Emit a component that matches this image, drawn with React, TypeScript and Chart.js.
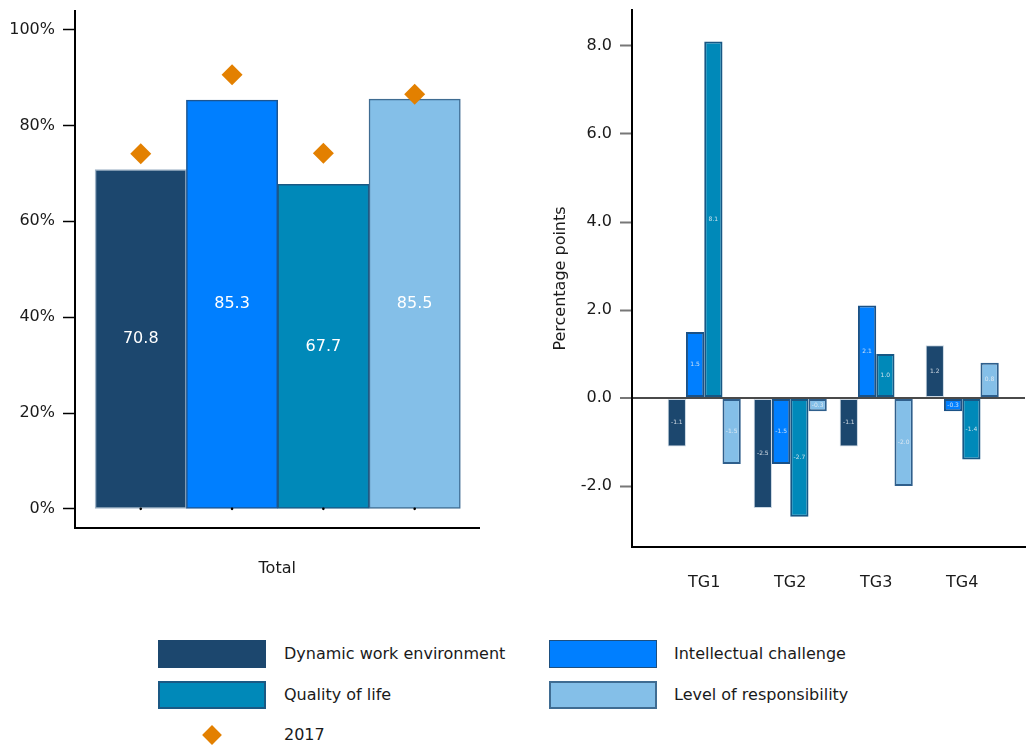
import React, { useEffect, useRef } from "react";
import { Chart, registerables } from "chart.js";
Chart.register(...registerables);

const seriesNames = ["Dynamic work environment", "Intellectual challenge", "Quality of life", "Level of responsibility"];
const seriesColors = ["#1C476E", "#007FFF", "#0089B9", "#84BFE8"];
const leftBorderColors = ["#9fb3c6", "#1d5590", "#1a5984", "#3f6c92"];
const rightBorderColors = ["#c9d6e2", "#1a5186", "#175784", "#2f5f8c"];
const totalValues = [70.8, 85.3, 67.7, 85.5];
const values2017 = [74.1, 90.6, 74.2, 86.5];
const baselineMarks = [0, 0, 0, 0];
const totalTicks = [0, 20, 40, 60, 80, 100];
const groupLabels = ["TG1", "TG2", "TG3", "TG4"];
const dynamicChange = [-1.1, -2.5, -1.1, 1.2];
const intellectualChange = [1.5, -1.5, 2.1, -0.3];
const qualityChange = [8.1, -2.7, 1.0, -1.4];
const responsibilityChange = [-1.5, -0.3, -2.0, 0.8];
const changeTicks = [-2, 0, 2, 4, 6, 8];

const FONT = "'DejaVu Sans', sans-serif";
const TEXT = "#1a1a1a";
const ORANGE = "#E38000";

function labelPlugin(size: number, color: string) {
  return {
    id: "barLabels",
    afterDatasetsDraw(chart: any) {
      const ctx = chart.ctx;
      chart.data.datasets.forEach((ds: any, i: number) => {
        const meta = chart.getDatasetMeta(i);
        if (meta.type !== "bar") return;
        meta.data.forEach((el: any, j: number) => {
          const { x, y, base } = el.getProps(["x", "y", "base"], true);
          const v = ds.data[j].y;
          ctx.save();
          ctx.font = `${size}px ${FONT}`;
          ctx.fillStyle = color;
          ctx.textAlign = "center";
          ctx.textBaseline = "middle";
          ctx.fillText(v.toFixed(1), x, (y + base) / 2);
          ctx.restore();
        });
      });
    },
  };
}

const fitY = (w: number) => (s: any) => {
  s.width = w;
  s.paddingTop = 0;
  s.paddingBottom = 0;
};
const fitX = (h: number) => (s: any) => {
  s.height = h;
  s.paddingLeft = 0;
  s.paddingRight = 0;
};

function LeftChart() {
  const ref = useRef<HTMLCanvasElement>(null);
  useEffect(() => {
    const chart = new Chart(ref.current!, {
      type: "bar",
      data: {
        datasets: [
          {
            type: "bar",
            data: totalValues.map((v, i) => ({ x: i, y: v })),
            backgroundColor: seriesColors,
            borderColor: leftBorderColors,
            borderWidth: 1.5,
            borderSkipped: false,
            categoryPercentage: 1,
            barPercentage: 1,
            order: 2,
          } as any,
          {
            type: "scatter",
            data: values2017.map((v, i) => ({ x: i, y: v })),
            pointStyle: "rectRot",
            pointRadius: 10.5,
            backgroundColor: ORANGE,
            borderColor: ORANGE,
            borderWidth: 0,
            order: 1,
          } as any,
          {
            type: "scatter",
            data: baselineMarks.map((v, i) => ({ x: i, y: v })),
            pointStyle: "circle",
            pointRadius: 1.3,
            backgroundColor: "#000",
            borderWidth: 0,
            order: 0,
          } as any,
        ],
      },
      options: {
        responsive: false,
        animation: false,
        layout: { padding: { top: 10, right: 10, left: 0, bottom: 0 } },
        plugins: { legend: { display: false }, tooltip: { enabled: false } },
        scales: {
          x: {
            type: "linear",
            min: -0.72,
            max: 3.71,
            offset: false,
            afterBuildTicks: (s: any) => { s.ticks = totalValues.map((_, i) => ({ value: i })); },
            ticks: { display: false },
            grid: { display: false },
            border: { display: true, color: "#000", width: 2 },
            title: { display: true, text: "Total", color: TEXT, font: { family: FONT, size: 16 }, padding: { top: 0, bottom: 22 } },
            afterFit: fitX(72),
          } as any,
          y: {
            min: -4,
            max: 104,
            afterBuildTicks: (s: any) => { s.ticks = totalTicks.map((v) => ({ value: v })); },
            ticks: { color: TEXT, font: { family: FONT, size: 16 }, padding: 8, callback: (v: any) => `${v}%` },
            grid: { display: true, drawOnChartArea: false, drawTicks: true, tickLength: 12, tickColor: "#000", tickWidth: 1.5 },
            border: { display: true, color: "#000", width: 2 },
            afterFit: fitY(75),
          } as any,
        },
      },
      plugins: [labelPlugin(16, "#ffffff")],
    });
    return () => chart.destroy();
  }, []);
  return <canvas ref={ref} width={490} height={600} style={{ position: "absolute", left: 0, top: 0 }} />;
}

function RightChart() {
  const ref = useRef<HTMLCanvasElement>(null);
  useEffect(() => {
    const series = [dynamicChange, intellectualChange, qualityChange, responsibilityChange];
    const chart = new Chart(ref.current!, {
      type: "bar",
      data: {
        datasets: series.map((vals, k) => ({
          label: seriesNames[k],
          data: vals.map((v, i) => ({ x: i, y: v })),
          backgroundColor: seriesColors[k],
          borderColor: rightBorderColors[k],
          borderWidth: k === 0 ? 1 : 2,
          borderSkipped: false,
          categoryPercentage: 0.85,
          barPercentage: 1,
        })) as any,
      },
      options: {
        responsive: false,
        animation: false,
        layout: { padding: { top: 10, right: 2, left: 0, bottom: 0 } },
        plugins: { legend: { display: false }, tooltip: { enabled: false } },
        scales: {
          x: {
            type: "linear",
            min: -0.84,
            max: 3.73,
            offset: false,
            afterBuildTicks: (s: any) => { s.ticks = groupLabels.map((_, i) => ({ value: i })); },
            ticks: { color: TEXT, font: { family: FONT, size: 16 }, padding: 18, callback: (v: any) => groupLabels[v] },
            grid: { display: false },
            border: { display: true, color: "#000", width: 2 },
            afterFit: fitX(53),
          } as any,
          y: {
            min: -3.386,
            max: 8.818,
            afterBuildTicks: (s: any) => { s.ticks = changeTicks.map((v) => ({ value: v })); },
            ticks: { color: TEXT, font: { family: FONT, size: 16 }, padding: 8, callback: (v: any) => Number(v).toFixed(1) },
            grid: {
              display: true,
              drawOnChartArea: true,
              drawTicks: true,
              tickLength: 12,
              tickColor: "#777",
              tickWidth: 2,
              color: (c: any) => (c.tick && c.tick.value === 0 ? "#4a4a4a" : "rgba(0,0,0,0)"),
              lineWidth: (c: any) => (c.tick && c.tick.value === 0 ? 2 : 1),
            },
            border: { display: true, color: "#000", width: 2 },
            title: { display: true, text: "Percentage points", color: TEXT, font: { family: FONT, size: 16 }, padding: { top: 51, bottom: 0 } },
            afterFit: fitY(132),
          } as any,
        },
      },
      plugins: [labelPlugin(6, "rgba(235,240,245,0.85)")],
    });
    return () => chart.destroy();
  }, []);
  return <canvas ref={ref} width={527} height={600} style={{ position: "absolute", left: 500, top: 0 }} />;
}

const legendBoxes = [
  { left: 158, top: 640, border: "none" },
  { left: 549, top: 640, border: "1px solid #1d4f80" },
  { left: 158, top: 681, border: "2px solid #1a5984" },
  { left: 549, top: 681, border: "2px solid #3f6c92" },
];
const legendTextLeft = [284, 674, 284, 674];

export default function App() {
  return (
    <div style={{ position: "absolute", left: 0, top: 0, width: 1027, height: 747, background: "#fff", fontFamily: FONT, color: TEXT, overflow: "hidden" }}>
      <LeftChart />
      <RightChart />
      {seriesNames.map((name, i) => (
        <React.Fragment key={name}>
          <div
            style={{
              position: "absolute",
              left: legendBoxes[i].left,
              top: legendBoxes[i].top,
              width: 108,
              height: 28,
              boxSizing: "border-box",
              background: seriesColors[i],
              border: legendBoxes[i].border,
            }}
          />
          <div style={{ position: "absolute", left: legendTextLeft[i], top: legendBoxes[i].top, height: 28, lineHeight: "28px", fontSize: 16, whiteSpace: "nowrap" }}>
            {name}
          </div>
        </React.Fragment>
      ))}
      <div style={{ position: "absolute", left: 205, top: 728, width: 14, height: 14, background: ORANGE, transform: "rotate(45deg)" }} />
      <div style={{ position: "absolute", left: 284, top: 721, height: 28, lineHeight: "28px", fontSize: 16 }}>2017</div>
    </div>
  );
}
